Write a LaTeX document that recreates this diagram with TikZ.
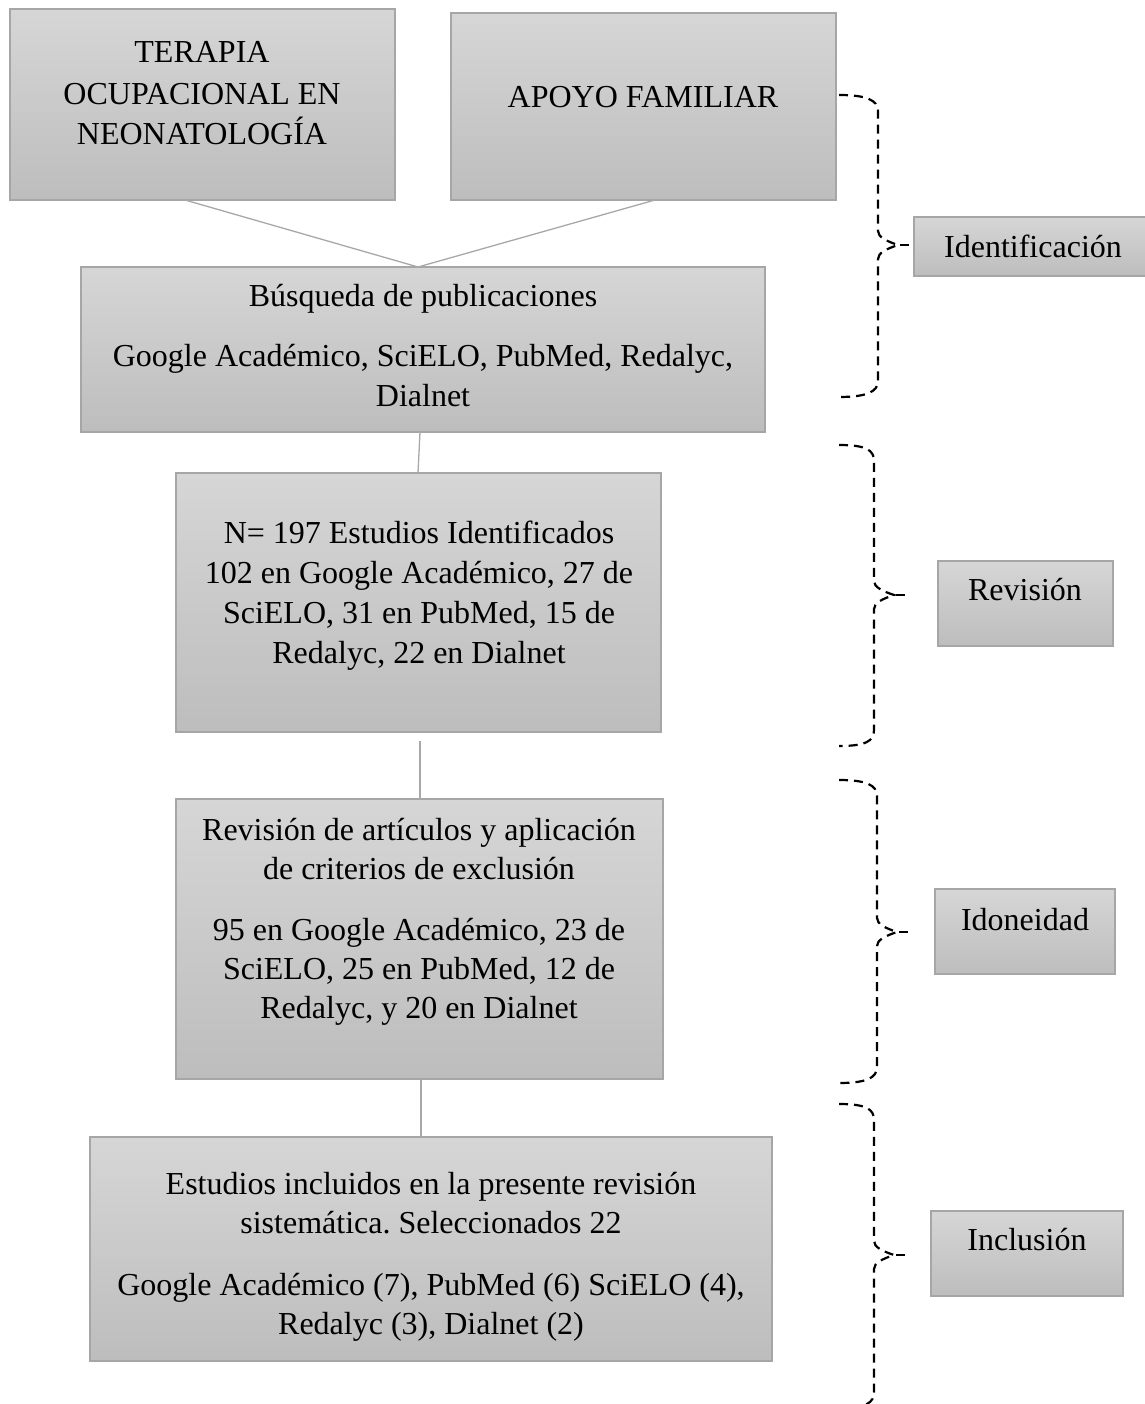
\documentclass[tikz,border=0pt]{standalone}
\usepackage{fontspec}
\setmainfont{Liberation Serif}
\definecolor{gtop}{HTML}{D6D6D6}
\definecolor{gbot}{HTML}{BDBDBD}
\definecolor{boxline}{HTML}{A6A6A6}
\definecolor{linkgray}{HTML}{A8A8A8}
\newcommand\bigfont{\fontsize{32}{40}\selectfont\frenchspacing}
\newcommand\bracepath[6]{%
  \draw[brc] (839,#2) .. controls (866,#2) and (#1,#2+5) .. (#1,#2+16)
    -- (#1,#3-14) .. controls (#1,#3-8) and (#1+8,#3-4) .. (#1+20,#3)
    .. controls (#1+8,#3+4) and (#1,#3+8) .. (#1,#3+14)
    -- (#1,#4-16) .. controls (#1,#4-5) and (866,#4) .. (839,#4);
  \coordinate (#6) at (#1+36,#3);
  \draw[brc] (#1+22,#3) -- (#6);}
\begin{document}
\begin{tikzpicture}[x=1pt,y=-1pt,
  box/.style={draw=boxline, line width=1.5pt, top color=gtop, bottom color=gbot,
    inner sep=0pt, outer sep=0pt, anchor=north west},
  txt/.style={anchor=base, inner sep=0pt, font=\bigfont},
  link/.style={draw=linkgray, line width=1.3pt},
  brc/.style={draw=black, line width=2.2pt, dash pattern=on 9pt off 6pt}]
\useasboundingbox (0,0) rectangle (1144,1404);
\fill[white] (0,0) rectangle (1144,1404);
% boxes
\node[box, minimum width=385pt, minimum height=191pt] (A) at (10,9) {};
\node[box, minimum width=385pt, minimum height=187pt] (B) at (451,13) {};
\node[box, minimum width=684pt, minimum height=165pt] (C) at (81,267) {};
\node[box, minimum width=485pt, minimum height=259pt] (D) at (176,473) {};
\node[box, minimum width=487pt, minimum height=280pt] (E) at (176,799) {};
\node[box, minimum width=682pt, minimum height=224pt] (F) at (90,1137) {};
\node[box, minimum width=240pt, minimum height=59pt] (Id) at (914,217) {};
\node[box, minimum width=175pt, minimum height=85pt] (Rev) at (938,561) {};
\node[box, minimum width=180pt, minimum height=85pt] (Ido) at (935,889) {};
\node[box, minimum width=192pt, minimum height=85pt] (Inc) at (931,1211) {};
% texts
\node[txt] (tA1) at (202,63) {TERAPIA};
\node[txt] (tA2) at (202,105) {OCUPACIONAL EN};
\node[txt] (tA3) at (202,145) {NEONATOLOGÍA};
\node[txt] (tB1) at (643,108) {APOYO FAMILIAR};
\node[txt] (tC1) at (423,307) {Búsqueda de publicaciones};
\node[txt] (tC2) at (423,366) {Google Académico, SciELO, PubMed, Redalyc,};
\node[txt] (tC3) at (423,406) {Dialnet};
\node[txt] (tD1) at (419,543) {N= 197 Estudios Identificados};
\node[txt] (tD2) at (419,583) {102 en Google Académico, 27 de};
\node[txt] (tD3) at (419,623) {SciELO, 31 en PubMed, 15 de};
\node[txt] (tD4) at (419,663) {Redalyc, 22 en Dialnet};
\node[txt] (tE1) at (419,840) {Revisión de artículos y aplicación};
\node[txt] (tE2) at (419,879) {de criterios de exclusión};
\node[txt] (tE3) at (419,940) {95 en Google Académico, 23 de};
\node[txt] (tE4) at (419,979) {SciELO, 25 en PubMed, 12 de};
\node[txt] (tE5) at (419,1018) {Redalyc, y 20 en Dialnet};
\node[txt] (tF1) at (431,1194) {Estudios incluidos en la presente revisión};
\node[txt] (tF2) at (431,1233) {sistemática. Seleccionados 22};
\node[txt] (tF3) at (431,1295) {Google Académico (7), PubMed (6) SciELO (4),};
\node[txt] (tF4) at (431,1334) {Redalyc (3), Dialnet (2)};
\node[txt] (tId) at (1033,258) {Identificación};
\node[txt] (tRev) at (1025,600) {Revisión};
\node[txt] (tIdo) at (1025,930) {Idoneidad};
\node[txt] (tInc) at (1027,1250) {Inclusión};
% connectors
\coordinate (cjoin) at ([xshift=337pt]C.north west);
\draw[link] ([xshift=175pt]A.south west) -- (cjoin);
\draw[link] ([xshift=204pt]B.south west) -- (cjoin);
\draw[link] ([xshift=339pt]C.south west) -- ([xshift=242pt]D.north west);
\draw[link] ([xshift=244pt,yshift=-9pt]D.south west) -- ([xshift=244pt]E.north west);
\draw[link] ([xshift=245pt]E.south west) -- ([xshift=331pt]F.north west);
% braces
\bracepath{878}{95}{245}{397}{Id}{s1}
\bracepath{874}{445}{595}{746}{Rev}{s2}
\bracepath{877}{780}{932}{1083}{Ido}{s3}
\bracepath{874}{1104}{1255}{1408}{Inc}{s4}
\end{tikzpicture}
\end{document}
